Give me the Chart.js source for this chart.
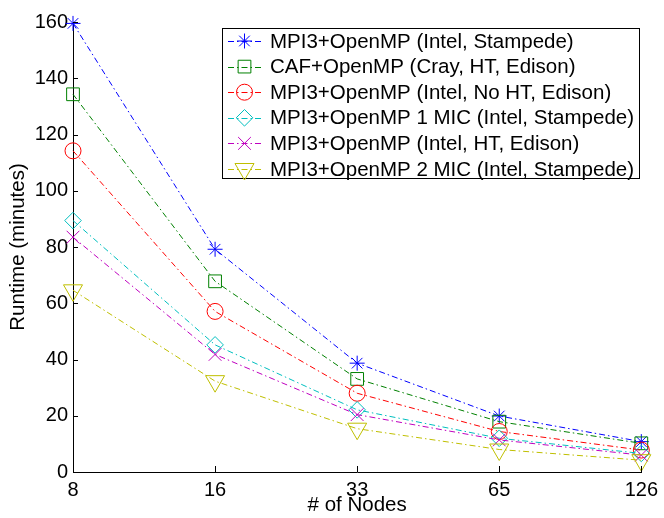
<!DOCTYPE html>
<html><head><meta charset="utf-8">
<script src="https://cdn.jsdelivr.net/npm/chart.js@4.4.1/dist/chart.umd.min.js"></script>
<style>html,body{margin:0;padding:0;background:#fff;}#wrap{width:664px;height:518px;}</style>
</head><body><div id="wrap"><canvas id="c" width="664" height="518"></canvas></div>
<script>
const nodes = ['8', '16', '33', '65', '126'];
const yTickValues = [0, 20, 40, 60, 80, 100, 120, 140, 160];
const seriesLabels = [
  'MPI3+OpenMP (Intel, Stampede)',
  'CAF+OpenMP (Cray, HT, Edison)',
  'MPI3+OpenMP (Intel, No HT, Edison)',
  'MPI3+OpenMP 1 MIC (Intel, Stampede)',
  'MPI3+OpenMP (Intel, HT, Edison)',
  'MPI3+OpenMP 2 MIC (Intel, Stampede)'
];
const mpiStampede = [159.5, 79.2, 38.7, 19.9, 10.8];
const cafEdison   = [134.3, 67.8, 33.1, 17.9, 10.2];
const mpiNoHT     = [114.2, 57.1, 28.0, 14.4, 7.8];
const mic1        = [89.4, 45.2, 22.1, 12.0, 6.6];
const mpiHT       = [83.5, 41.8, 20.4, 11.4, 6.0];
const mic2        = [64.6, 32.3, 15.4, 8.0, 4.2];

const FONT = "'Liberation Sans', Arial, Helvetica, sans-serif";
const colors = ['#0000ff', '#008000', '#ff0000', '#00bfbf', '#bf00bf', '#bfbf00'];
const styles = [
  {pointStyle: 'star', radius: 7.5, rotation: 0},
  {pointStyle: 'rect', radius: 9, rotation: 0},
  {pointStyle: 'circle', radius: 8, rotation: 0},
  {pointStyle: 'rectRot', radius: 8.3, rotation: 0},
  {pointStyle: 'crossRot', radius: 9, rotation: 0},
  {pointStyle: 'triangle', radius: 11, rotation: 180}
];
const dash = [6, 3, 1.5, 3];
const allSeries = [mpiStampede, cafEdison, mpiNoHT, mic1, mpiHT, mic2];

const datasets = allSeries.map((d, i) => ({
  label: seriesLabels[i],
  data: d,
  borderColor: colors[i],
  backgroundColor: 'rgba(0,0,0,0)',
  borderWidth: 1,
  borderDash: dash,
  tension: 0,
  fill: false,
  pointStyle: styles[i].pointStyle,
  pointRadius: styles[i].radius,
  pointRotation: styles[i].rotation,
  pointBorderColor: colors[i],
  pointBackgroundColor: 'rgba(0,0,0,0)',
  pointBorderWidth: 1,
  clip: false,
  order: 10 - i
}));

const innerTicks = {
  id: 'innerTicks',
  afterDraw(chart) {
    const ctx = chart.ctx, xs = chart.scales.x, ys = chart.scales.y;
    const a = chart.chartArea;
    ctx.save();
    ctx.strokeStyle = '#000';
    ctx.lineWidth = 1;
    ctx.beginPath();
    yTickValues.forEach(v => {
      const y = Math.round(ys.getPixelForValue(v)) + 0.5;
      ctx.moveTo(a.left, y); ctx.lineTo(a.left + 5, y);
    });
    nodes.forEach((n, i) => {
      const x = Math.round(xs.getPixelForValue(i)) + 0.5;
      ctx.moveTo(x, a.bottom); ctx.lineTo(x, a.bottom - 6);
    });
    ctx.stroke();
    ctx.restore();
  }
};

function drawMarker(ctx, st, x, y) {
  if (Chart.helpers && Chart.helpers.drawPoint) {
    Chart.helpers.drawPoint(ctx, {pointStyle: st.pointStyle, radius: st.radius, rotation: st.rotation, borderWidth: 1}, x, y);
  }
}

const boxLegend = {
  id: 'boxLegend',
  afterDraw(chart) {
    const ctx = chart.ctx;
    const L = 222, T = 28, R = 639, B = 178;
    ctx.save();
    ctx.fillStyle = '#fff';
    ctx.fillRect(L, T, R - L, B - T);
    ctx.strokeStyle = '#000';
    ctx.lineWidth = 1;
    ctx.setLineDash([]);
    ctx.strokeRect(L + 0.5, T + 0.5, R - L, B - T);
    const y0 = 41, step = 25.6;
    seriesLabels.forEach((lab, i) => {
      const y = y0 + i * step;
      ctx.strokeStyle = colors[i];
      ctx.lineWidth = 1;
      ctx.setLineDash(dash);
      ctx.beginPath();
      ctx.moveTo(228, Math.round(y) + 0.5); ctx.lineTo(261, Math.round(y) + 0.5);
      ctx.stroke();
      ctx.setLineDash([]);
      ctx.fillStyle = 'rgba(0,0,0,0)';
      drawMarker(ctx, styles[i], 244.5, y);
      ctx.fillStyle = '#000';
      ctx.font = '20.5px ' + FONT;
      ctx.textBaseline = 'middle';
      ctx.textAlign = 'left';
      ctx.fillText(lab, 270, y + 1);
    });
    ctx.restore();
  }
};

new Chart(document.getElementById('c'), {
  type: 'line',
  data: {labels: nodes, datasets: datasets},
  options: {
    responsive: false,
    animation: false,
    devicePixelRatio: 1,
    layout: {padding: {top: 22, right: 18, left: 0, bottom: 0}},
    plugins: {legend: {display: false}, tooltip: {enabled: false}},
    scales: {
      x: {
        type: 'category',
        offset: false,
        grid: {display: false, drawTicks: false},
        border: {display: true, color: '#000', width: 1},
        ticks: {color: '#000', font: {family: FONT, size: 20}, padding: 6, maxRotation: 0, autoSkip: false},
        title: {display: true, text: '# of Nodes', color: '#000', font: {family: FONT, size: 20.5}, padding: {top: 0, bottom: 0}},
        afterFit(s) { s.height = 46; }
      },
      y: {
        type: 'linear',
        min: 0, max: 160,
        grid: {display: false, drawTicks: false},
        border: {display: true, color: '#000', width: 1},
        ticks: {color: '#000', stepSize: 20, font: {family: FONT, size: 20}, padding: 5},
        title: {display: true, text: 'Runtime (minutes)', color: '#000', font: {family: FONT, size: 20.5}, padding: {top: 6, bottom: 0}},
        afterFit(s) { s.width = 73; }
      }
    }
  },
  plugins: [innerTicks, boxLegend]
});
</script>
</body></html>
